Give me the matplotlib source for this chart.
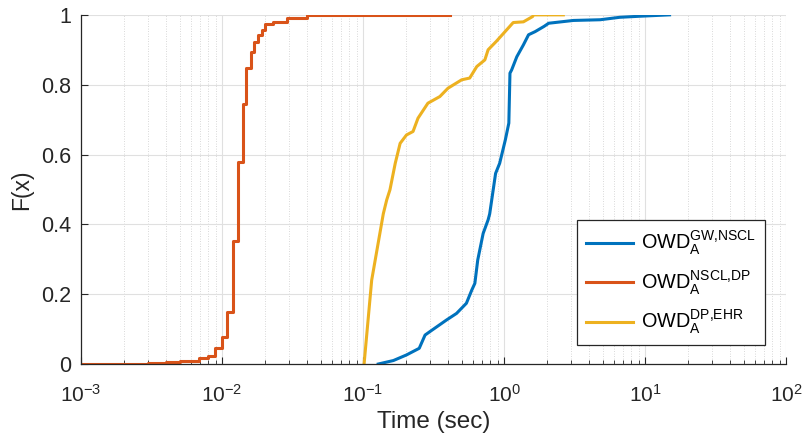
import numpy as np
import matplotlib
matplotlib.use("Agg")
import matplotlib.pyplot as plt
from matplotlib.ticker import LogLocator, NullFormatter

plt.rcParams['font.family'] = ['Liberation Sans', 'DejaVu Sans']
plt.rcParams['mathtext.fontset'] = 'custom'
plt.rcParams['mathtext.rm'] = 'Liberation Sans'
plt.rcParams['mathtext.it'] = 'Liberation Sans:italic'
plt.rcParams['mathtext.default'] = 'regular'

# Data
nscl_dp_x = [0.001, 0.002, 0.003, 0.004, 0.005, 0.0069, 0.0079, 0.0089, 0.0100, 0.0108,
             0.0120, 0.0129, 0.0140, 0.0147, 0.0160, 0.0169, 0.0181, 0.0191, 0.0202,
             0.023, 0.029, 0.040, 0.414]
nscl_dp_y = [0.0, 0.0, 0.002, 0.005, 0.010, 0.016, 0.024, 0.045, 0.078, 0.150,
             0.353, 0.578, 0.744, 0.847, 0.893, 0.921, 0.943, 0.957, 0.973,
             0.980, 0.990, 1.0, 1.0]

dp_ehr_x = [0.1016, 0.115, 0.139, 0.147, 0.155, 0.169, 0.183, 0.203, 0.226, 0.245, 0.288,
            0.35, 0.40, 0.50, 0.57, 0.64, 0.73, 0.77, 0.88, 0.97, 1.16, 1.37, 1.59,
            1.62, 2.63]
dp_ehr_y = [0.0, 0.24, 0.43, 0.47, 0.499, 0.575, 0.632, 0.656, 0.666, 0.704, 0.747,
            0.766, 0.79, 0.814, 0.819, 0.852, 0.871, 0.90, 0.924, 0.943, 0.978, 0.98, 0.995,
            1.0, 1.0]

gw_nscl_x = [0.128, 0.164, 0.203, 0.25, 0.275, 0.298, 0.39, 0.46, 0.54, 0.59, 0.62, 0.65,
             0.71, 0.77, 0.79, 0.87, 0.93, 1.02, 1.08, 1.10, 1.13, 1.23, 1.37, 1.49, 1.66,
             1.92, 2.07, 3.1, 4.8, 6.6, 9.1, 14.9]
gw_nscl_y = [0.0, 0.01, 0.026, 0.045, 0.083, 0.093, 0.126, 0.145, 0.174, 0.212, 0.231, 0.298,
             0.374, 0.413, 0.430, 0.546, 0.575, 0.642, 0.69, 0.833, 0.842, 0.88, 0.914, 0.943,
             0.952, 0.967, 0.976, 0.984, 0.986, 0.993, 0.996, 1.0]

labels = [r'OWD$_{A}^{GW{,}NSCL}$', r'OWD$_{A}^{NSCL{,}DP}$', r'OWD$_{A}^{DP{,}EHR}$']
colors = ['#0072BD', '#D95319', '#EDB120']

fig = plt.figure(figsize=(8.03, 4.37), dpi=100)
ax = fig.add_axes([0.101, 0.167, 0.878, 0.799])

ax.plot(gw_nscl_x, gw_nscl_y, color=colors[0], lw=2.2, label=labels[0])
ax.plot(nscl_dp_x, nscl_dp_y, color=colors[1], lw=2.2, drawstyle='steps-post', label=labels[1])
ax.plot(dp_ehr_x, dp_ehr_y, color=colors[2], lw=2.2, label=labels[2])

ax.set_xscale('log')
ax.set_xlim(1e-3, 1e2)
ax.set_ylim(0, 1)
ax.xaxis.set_major_locator(LogLocator(base=10, numticks=10))
ax.xaxis.set_minor_locator(LogLocator(base=10, subs=np.arange(2, 10), numticks=100))
ax.xaxis.set_minor_formatter(NullFormatter())
ax.set_yticks([0, 0.2, 0.4, 0.6, 0.8, 1.0])
ax.set_yticklabels(['0', '0.2', '0.4', '0.6', '0.8', '1'])

ax.grid(True, which='major', color='#e0e0e0', lw=0.8, ls='-')
ax.grid(True, which='minor', axis='x', color='#cccccc', lw=0.6, ls=(0, (1, 2)))
ax.set_axisbelow(True)

for s in ['top', 'right']:
    ax.spines[s].set_visible(False)
for s in ['left', 'bottom']:
    ax.spines[s].set_color('#262626')
    ax.spines[s].set_linewidth(0.9)

ax.tick_params(axis='both', which='both', direction='in', colors='#262626',
               labelcolor='#262626')
ax.tick_params(axis='x', which='major', length=5, pad=14, labelsize=15)
ax.tick_params(axis='x', which='minor', length=3)
ax.tick_params(axis='y', which='major', length=5, pad=7, labelsize=15.5)

ax.set_xlabel('Time (sec)', fontsize=17.5, color='#262626', labelpad=4)
ax.set_ylabel('F(x)', fontsize=16.5, color='#262626', labelpad=6)

leg = ax.legend(loc='lower right', bbox_to_anchor=(0.97, 0.054), borderaxespad=0,
                fontsize=14.3, frameon=True, fancybox=False, edgecolor='#262626',
                framealpha=1, handlelength=2.35, labelspacing=0.55, borderpad=0.45,
                handletextpad=0.4)
leg.get_frame().set_linewidth(0.9)

fig.savefig('out.png', dpi=100)
